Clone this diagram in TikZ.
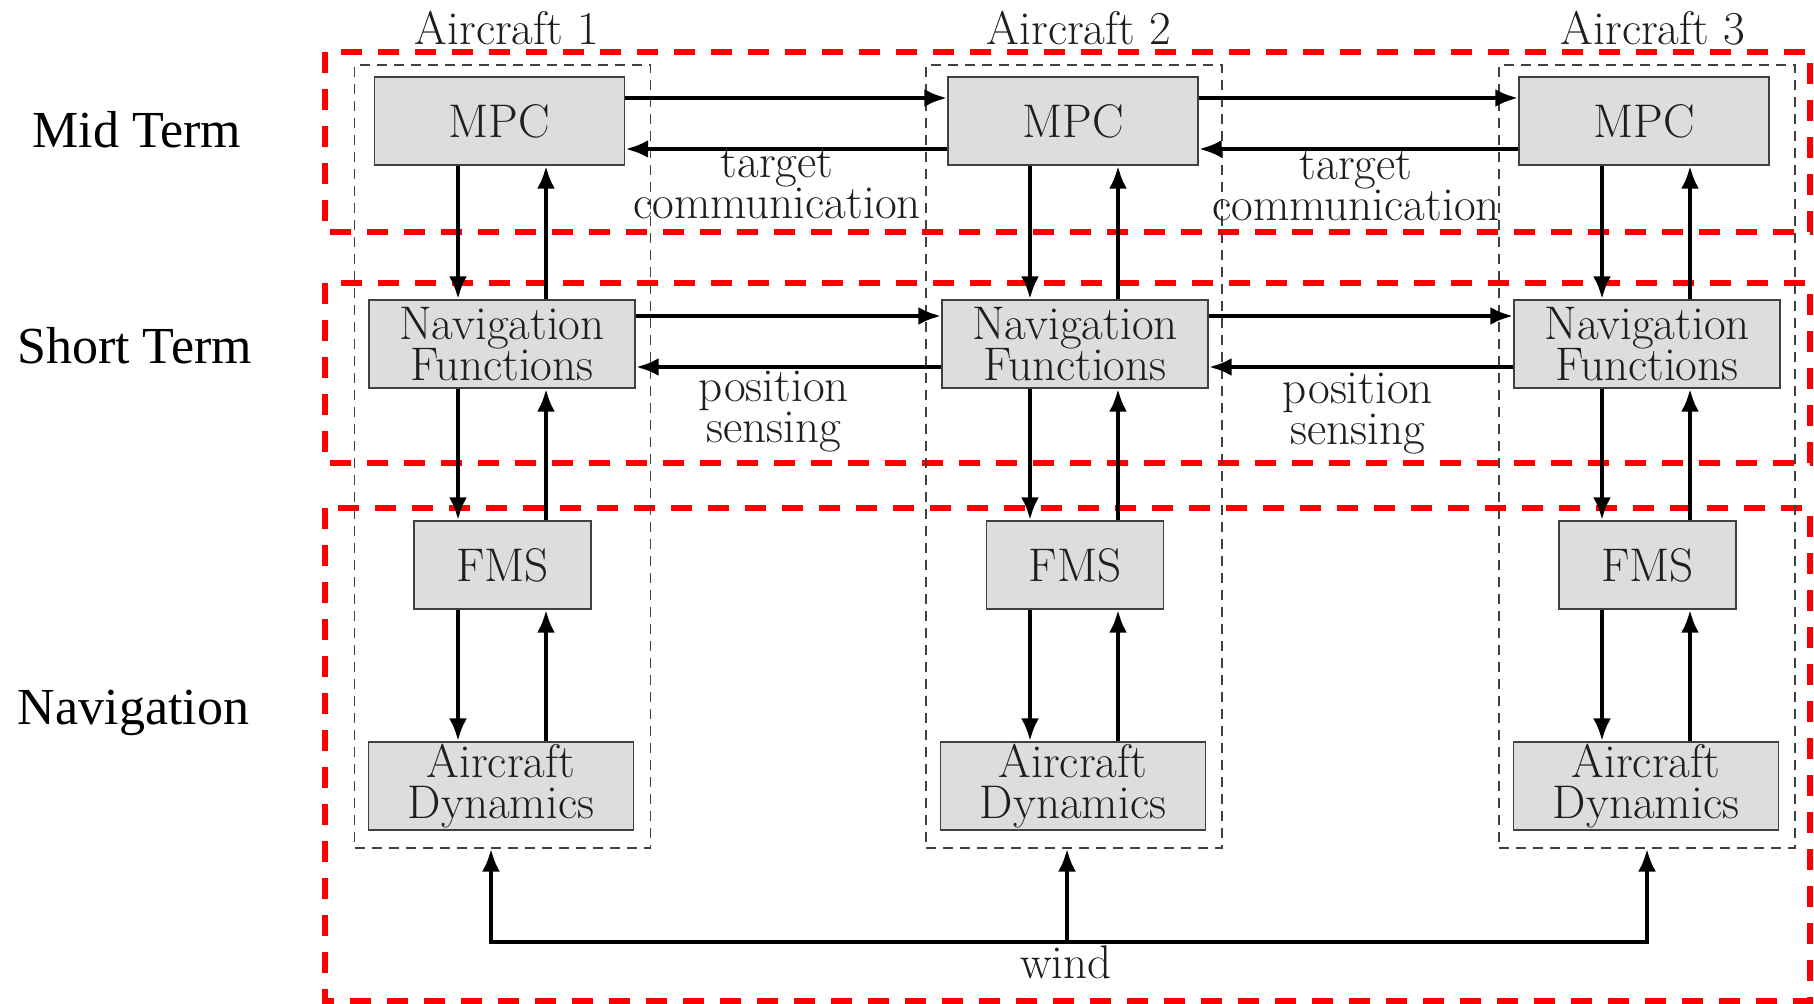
\documentclass[tikz,border=0pt]{standalone}
\usepackage{fontspec}
\newfontfamily\timesf{Liberation Serif}
\usetikzlibrary{arrows.meta}
\definecolor{boxgray}{RGB}{221,221,221}
\definecolor{txt}{RGB}{30,30,30}
\newcommand{\lmsize}{\fontsize{23.6pt}{20.5pt}\selectfont\lineskiplimit=-50pt\relax}
\begin{document}
\begin{tikzpicture}[x=0.5pt,y=-0.5pt,
  lm/.style={font=\lmsize, text=txt},
  blk/.style={lm, draw=black!75, line width=0.7pt, fill=boxgray, inner sep=0pt, align=center, minimum height=44pt},
  acbox/.style={draw=black!75, line width=0.6pt, dash pattern=on 5pt off 3.5pt, inner sep=0pt, minimum width=148pt, minimum height=391.5pt},
  layer/.style={draw=red, line width=2.6pt, dash pattern=on 10.5pt off 8pt},
  arr/.style={line width=2.3pt, -{Latex[length=11.5pt,width=9pt]}},
  windarr/.style={line width=2.4pt, {Latex[length=11.5pt,width=9pt]}-{Latex[length=11.5pt,width=9pt]}},
  windup/.style={line width=2.4pt, -{Latex[length=11.5pt,width=9pt]}},
  lbl/.style={lm, align=center, inner sep=0pt},
  side/.style={font=\timesf\fontsize{26pt}{30pt}\selectfont, inner sep=0pt, anchor=base}
]
\useasboundingbox (0,0) rectangle (1814,1004);

% layers
\draw[layer] (325,52) rectangle (1810,232);
\draw[layer] (325,283) rectangle (1810,463);
\draw[layer] (325,508) rectangle (1810,1001);

% aircraft frames
\node[acbox] (ac1) at (502.5,456.5) {};
\node[acbox] (ac2) at (1074,456.5) {};
\node[acbox] (ac3) at (1647,456.5) {};

% blocks
\node[blk, minimum width=125pt] (MPC1) at (499.5,121) {MPC};
\node[blk, minimum width=125pt] (MPC2) at (1073,121) {MPC};
\node[blk, minimum width=125pt] (MPC3) at (1644,121) {MPC};
\node[blk, minimum width=133pt] (NAV1) at (502,344) {Navigation\\Functions};
\node[blk, minimum width=133pt] (NAV2) at (1075,344) {Navigation\\Functions};
\node[blk, minimum width=133pt] (NAV3) at (1647,344) {Navigation\\Functions};
\node[blk, minimum width=88.5pt] (FMS1) at (502.5,565) {FMS};
\node[blk, minimum width=88.5pt] (FMS2) at (1075,565) {FMS};
\node[blk, minimum width=88.5pt] (FMS3) at (1647.5,565) {FMS};
\node[blk, minimum width=132.5pt] (AD1) at (501,786) {Aircraft\\Dynamics};
\node[blk, minimum width=132.5pt] (AD2) at (1073,786) {Aircraft\\Dynamics};
\node[blk, minimum width=132.5pt] (AD3) at (1646,786) {Aircraft\\Dynamics};

% helper coordinates
\coordinate (d1) at (458,0);  \coordinate (u1) at (546,0);
\coordinate (d2) at (1030,0); \coordinate (u2) at (1118,0);
\coordinate (d3) at (1602,0); \coordinate (u3) at (1690,0);
\coordinate (ty) at (0,98);  \coordinate (by) at (0,149);
\coordinate (ny) at (0,316); \coordinate (my) at (0,367);

% vertical arrows
\foreach \i in {1,2,3}{
  \draw[arr] (d\i |- MPC\i.south) -- (d\i |- NAV\i.north);
  \draw[arr] (u\i |- NAV\i.north) -- (u\i |- MPC\i.south);
  \draw[arr] (d\i |- NAV\i.south) -- (d\i |- FMS\i.north);
  \draw[arr] (u\i |- FMS\i.north) -- (u\i |- NAV\i.south);
  \draw[arr] (d\i |- FMS\i.south) -- (d\i |- AD\i.north);
  \draw[arr] (u\i |- AD\i.north) -- (u\i |- FMS\i.south);
}

% horizontal arrows
\draw[arr] (MPC1.east |- ty) -- (MPC2.west |- ty);
\draw[arr] (MPC2.east |- ty) -- (MPC3.west |- ty);
\draw[arr] (MPC2.west |- by) -- (MPC1.east |- by);
\draw[arr] (MPC3.west |- by) -- (MPC2.east |- by);
\draw[arr] (NAV1.east |- ny) -- (NAV2.west |- ny);
\draw[arr] (NAV2.east |- ny) -- (NAV3.west |- ny);
\draw[arr] (NAV2.west |- my) -- (NAV1.east |- my);
\draw[arr] (NAV3.west |- my) -- (NAV2.east |- my);

% wind
\coordinate (w1) at (491,942);
\coordinate (w2) at (1067,942);
\coordinate (w3) at (1647,942);
\draw[windarr] (w1 |- ac1.south) -- (w1) -- (w3) -- (w3 |- ac3.south);
\draw[windup] (w2) -- (w2 |- ac2.south);

% labels
\node[lbl, anchor=base] (A1) at (507,45) {Aircraft 1};
\node[lbl, anchor=base] (A2) at (1079,45) {Aircraft 2};
\node[lbl, anchor=base] (A3) at (1653,45) {Aircraft 3};
\node[lbl, anchor=base] (tc1) at (777,219) {target\\communication};
\node[lbl, anchor=base] (tc2) at (1356,221) {target\\communication};
\node[lbl, anchor=base] (ps1) at (774,443) {position\\sensing};
\node[lbl, anchor=base] (ps2) at (1358,445) {position\\sensing};
\node[lbl, anchor=base] (wind) at (1066,978) {wind};

\node[side] (mid) at (137,148) {Mid Term};
\node[side] (short) at (134.5,364) {Short Term};
\node[side] (nav) at (133.5,724) {Navigation};
\end{tikzpicture}
\end{document}
